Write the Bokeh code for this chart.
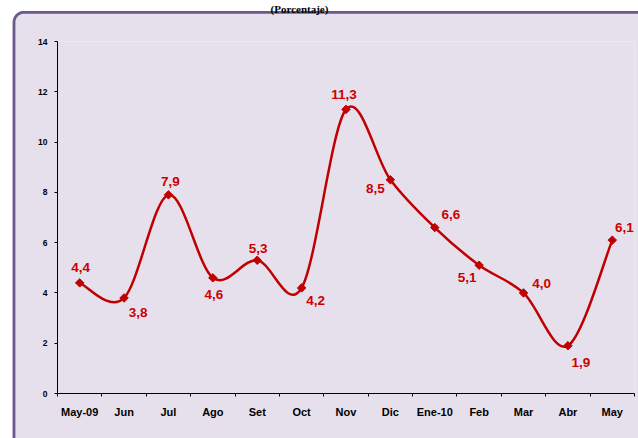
import numpy as np
from bokeh.plotting import figure
from bokeh.models import FixedTicker, Range1d, LabelSet, ColumnDataSource
from bokeh.core.properties import value
from bokeh.embed import file_html
from bokeh.resources import INLINE

# ---- data ----
categories = ["May-09", "Jun", "Jul", "Ago", "Set", "Oct", "Nov",
              "Dic", "Ene-10", "Feb", "Mar", "Abr", "May"]
values = [4.4, 3.8, 7.9, 4.6, 5.3, 4.2, 11.3, 8.5, 6.6, 5.1, 4.0, 1.9, 6.1]
y_ticks = [0, 2, 4, 6, 8, 10, 12, 14]
title_text = "(Porcentaje)"

# ---- label placement (pixels, layout only) ----
label_dx = [1, 14, 2, 1, 1, 14, -2, -15, 16, -12, 18, 13, 12]
label_dy = [15, -15, 13, -17, 12, -13, 15, -9, 13, -12, 9, -17, 13]

RED = "#c00000"
LABEL_RED = "#cc0000"
LAVENDER = "#e6e0ec"
PURPLE = "#6a5a8e"
FONT = "Liberation Sans"

n = len(values)
xs = np.arange(n, dtype=float)
ys = np.array(values, dtype=float)
Y_MAX = y_ticks[-1]

# smoothed line (Catmull-Rom style bezier segments through the data points)
x0, y0, x1, y1, cx0, cy0, cx1, cy1 = [], [], [], [], [], [], [], []
for i in range(n - 1):
    pxp, pyp = (xs[i - 1], ys[i - 1]) if i > 0 else (xs[i], ys[i])
    pxn, pyn = (xs[i + 2], ys[i + 2]) if i + 2 < n else (xs[i + 1], ys[i + 1])
    x0.append(xs[i]); y0.append(ys[i])
    x1.append(xs[i + 1]); y1.append(ys[i + 1])
    cx0.append(xs[i] + (xs[i + 1] - pxp) / 6.0)
    cy0.append(ys[i] + (ys[i + 1] - pyp) / 6.0)
    cx1.append(xs[i + 1] - (pxn - xs[i]) / 6.0)
    cy1.append(ys[i + 1] - (pyn - ys[i]) / 6.0)

W, H = 638, 438
ML, MR, MT, MB = 57, 4, 41, 45

p = figure(width=W, height=H,
           x_range=Range1d(-0.5, n - 0.5), y_range=Range1d(0, Y_MAX),
           output_backend="svg", toolbar_location=None,
           min_border_left=ML, min_border_right=MR,
           min_border_top=MT, min_border_bottom=MB,
           background_fill_color=LAVENDER, border_fill_color=LAVENDER,
           outline_line_color=None)
p.grid.visible = False


# canvas-pixel -> data helpers for the decorative panel outline
def dx_(px):
    return -0.5 + (np.asarray(px, dtype=float) - ML) * n / (W - ML - MR)


def dy_(py):
    return Y_MAX * (H - MB - np.asarray(py, dtype=float)) / (H - MB - MT)


# rounded panel edge (top-left corner visible; right/bottom edges off-window)
EDGE_X, EDGE_Y, RAD, LW = 13.5, 11.8, 10.0, 2.8
cxp, cyp = EDGE_X + RAD, EDGE_Y + RAD
ang = np.linspace(np.pi, 1.5 * np.pi, 24)
# white area outside the panel
ro = RAD + LW / 2
mask_x = [-10, W + 10, W + 10] + list(cxp + ro * np.cos(ang[::-1])) + [EDGE_X - LW / 2, -10]
mask_y = [-10, -10, EDGE_Y - LW / 2] + list(cyp + ro * np.sin(ang[::-1])) + [H + 10, H + 10]
mask_x = [mask_x[0], mask_x[1], mask_x[2], cxp] + mask_x[3:]
mask_y = [mask_y[0], mask_y[1], mask_y[2], EDGE_Y - LW / 2] + mask_y[3:]
p.patch(dx_(mask_x), dy_(mask_y), fill_color="white", line_color=None,
        level="annotation")
# purple outline
out_x = [EDGE_X] + list(cxp + RAD * np.cos(ang)) + [W + 10]
out_y = [H + 10] + list(cyp + RAD * np.sin(ang)) + [EDGE_Y]
p.line(dx_(out_x), dy_(out_y), line_color=PURPLE, line_width=LW,
       level="annotation")

# x axis
p.xaxis.ticker = FixedTicker(ticks=list(range(n)),
                             minor_ticks=[i - 0.5 for i in range(n + 1)])
p.xaxis.major_label_overrides = {i: c for i, c in enumerate(categories)}
p.xaxis.major_tick_line_color = None
p.xaxis.major_tick_out = 0
p.xaxis.major_tick_in = 0
p.xaxis.minor_tick_line_color = "black"
p.xaxis.minor_tick_out = 3
p.xaxis.minor_tick_in = 0
p.xaxis.major_label_standoff = 9
p.xaxis.major_label_text_font = FONT
p.xaxis.major_label_text_font_style = "bold"
p.xaxis.major_label_text_font_size = "11px"
p.xaxis.major_label_text_color = "black"
p.xaxis.axis_line_color = "black"

# y axis
p.yaxis.ticker = FixedTicker(ticks=y_ticks)
p.yaxis.minor_tick_line_color = None
p.yaxis.major_tick_out = 3
p.yaxis.major_tick_in = 0
p.yaxis.major_tick_line_color = "black"
p.yaxis.major_label_standoff = 7
p.yaxis.major_label_text_font = FONT
p.yaxis.major_label_text_font_style = "bold"
p.yaxis.major_label_text_font_size = "8.5px"
p.yaxis.major_label_text_color = "black"
p.yaxis.axis_line_color = "black"

# line + markers
p.bezier(x0=x0, y0=y0, x1=x1, y1=y1, cx0=cx0, cy0=cy0, cx1=cx1, cy1=cy1,
         line_color=RED, line_width=2.5)
p.scatter(xs, ys, marker="square", angle=np.pi / 4, size=6,
          fill_color=RED, line_color=RED)

# data labels
src = ColumnDataSource(dict(
    x=xs, y=ys,
    text=[f"{v:.1f}".replace(".", ",") for v in values],
    dx=label_dx, dy=label_dy))
labels = LabelSet(x="x", y="y", text="text", source=src,
                  x_offset="dx", y_offset="dy",
                  text_align="center", text_baseline="middle",
                  text_font=value(FONT), text_font_style="bold",
                  text_font_size="13.5px", text_color=LABEL_RED)
p.add_layout(labels)

# title, above the panel (the original is cut at the window's top edge)
p.text(x=dx_([299]), y=dy_([8]), text=[title_text],
       text_align="center", text_baseline="alphabetic",
       text_font=value("Liberation Serif"), text_font_style="bold",
       text_font_size="11px", text_color="black", level="annotation")

open("out.html", "w").write(file_html(p, INLINE))
